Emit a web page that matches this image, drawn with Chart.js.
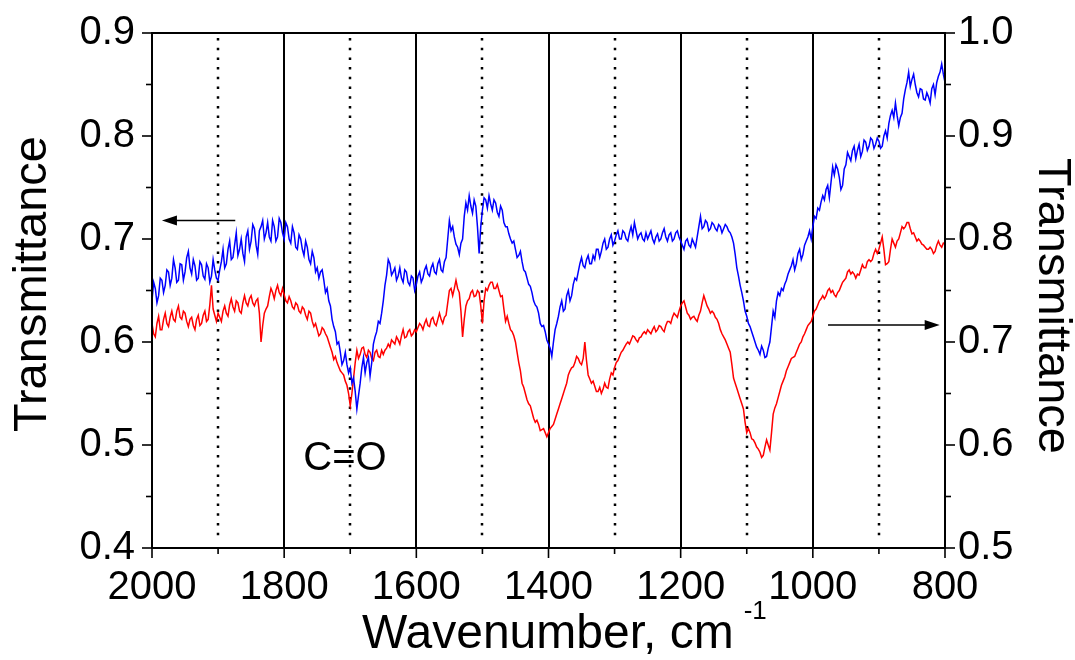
<!DOCTYPE html>
<html>
<head>
<meta charset="utf-8">
<script src="https://cdn.jsdelivr.net/npm/chart.js@4/dist/chart.umd.min.js"></script>
<style>
html,body{margin:0;padding:0;background:#fff;}
canvas{display:block;}
</style>
</head>
<body>
<canvas id="c" width="1075" height="660"></canvas>
<script>
// ---- data: readings every 5 cm-1 from 2000 down to 800, plus the in-between readings (every 5 cm-1 from 1997.5 down to 802.5) ----
const wavenumberStart = 2000;
const wavenumberStep = 2.5;

// blue spectrum (left axis) at 2000, 1995, ... 800
const blueLeft = [
0.640,0.652,0.645,0.660,0.655,0.668,0.662,0.672,0.660,0.675,
0.668,0.688,0.666,0.674,0.662,0.675,0.661,0.672,0.664,0.670,
0.660,0.678,0.672,0.690,0.680,0.694,0.684,0.700,0.678,0.708,
0.698,0.710,0.685,0.712,0.700,0.716,0.698,0.712,0.702,0.716,
0.700,0.712,0.696,0.706,0.690,0.700,0.684,0.692,0.676,0.682,
0.672,0.668,0.660,0.652,0.635,0.615,0.598,0.590,0.582,0.578,
0.575,0.565,0.535,0.560,0.585,0.580,0.567,0.598,0.610,0.618,
0.640,0.665,0.676,0.668,0.660,0.672,0.658,0.668,0.655,0.662,
0.656,0.668,0.662,0.674,0.664,0.676,0.666,0.680,0.668,0.682,
0.718,0.712,0.695,0.685,0.700,0.735,0.742,0.725,0.732,0.686,
0.728,0.738,0.742,0.728,0.735,0.722,0.728,0.712,0.705,0.696,
0.690,0.684,0.678,0.668,0.656,0.648,0.636,0.628,0.615,0.610,
0.598,0.586,0.612,0.625,0.640,0.632,0.650,0.645,0.662,0.668,
0.682,0.672,0.684,0.676,0.680,0.690,0.688,0.700,0.692,0.704,
0.698,0.708,0.700,0.706,0.698,0.712,0.716,0.700,0.706,0.698,
0.700,0.708,0.696,0.705,0.700,0.710,0.698,0.706,0.700,0.708,
0.698,0.690,0.700,0.692,0.696,0.702,0.722,0.712,0.716,0.710,
0.714,0.708,0.712,0.710,0.712,0.706,0.696,0.672,0.655,0.640,
0.625,0.615,0.605,0.595,0.588,0.592,0.586,0.600,0.630,0.640,
0.645,0.650,0.660,0.670,0.680,0.676,0.690,0.685,0.698,0.708,
0.712,0.720,0.728,0.742,0.748,0.740,0.770,0.772,0.760,0.752,
0.772,0.780,0.786,0.778,0.792,0.785,0.794,0.790,0.796,0.792,
0.795,0.790,0.805,0.812,0.825,0.832,0.810,0.822,0.845,0.862,
0.855,0.850,0.838,0.845,0.835,0.838,0.846,0.840,0.858,0.870,
0.852
];
// blue spectrum (left axis) at 1997.5, 1992.5, ... 802.5
const blueLeftMid = [
0.658,0.638,0.662,0.648,0.670,0.655,0.680,0.658,0.676,0.660,
0.682,0.672,0.680,0.660,0.678,0.664,0.676,0.658,0.680,0.662,
0.670,0.690,0.676,0.698,0.682,0.706,0.690,0.686,0.702,0.690,
0.714,0.694,0.708,0.718,0.706,0.702,0.718,0.698,0.720,0.706,
0.716,0.700,0.712,0.692,0.704,0.690,0.698,0.680,0.688,0.668,
0.662,0.670,0.648,0.640,0.622,0.610,0.600,0.578,0.590,0.570,
0.560,0.552,0.548,0.575,0.570,0.585,0.580,0.605,0.620,0.628,
0.655,0.680,0.665,0.672,0.664,0.662,0.670,0.658,0.664,0.650,
0.664,0.658,0.670,0.666,0.672,0.668,0.676,0.670,0.678,0.700,
0.708,0.702,0.692,0.696,0.722,0.728,0.732,0.738,0.712,0.712,
0.740,0.730,0.734,0.738,0.726,0.732,0.716,0.712,0.700,0.698,
0.682,0.688,0.670,0.662,0.654,0.640,0.634,0.618,0.616,0.602,
0.594,0.600,0.618,0.634,0.630,0.645,0.640,0.656,0.660,0.676,
0.674,0.680,0.676,0.684,0.690,0.682,0.696,0.690,0.700,0.694,
0.704,0.700,0.708,0.700,0.706,0.704,0.708,0.704,0.700,0.706,
0.704,0.700,0.702,0.698,0.706,0.702,0.704,0.698,0.706,0.702,
0.694,0.698,0.694,0.700,0.692,0.712,0.710,0.718,0.708,0.716,
0.710,0.714,0.706,0.714,0.708,0.702,0.685,0.664,0.648,0.630,
0.618,0.610,0.600,0.592,0.596,0.585,0.594,0.615,0.624,0.648,
0.652,0.656,0.666,0.674,0.670,0.686,0.680,0.694,0.702,0.700,
0.722,0.730,0.736,0.738,0.752,0.755,0.762,0.768,0.748,0.768,
0.784,0.776,0.790,0.786,0.780,0.796,0.786,0.798,0.788,0.798,
0.788,0.800,0.798,0.820,0.818,0.820,0.818,0.836,0.852,0.848,
0.860,0.842,0.846,0.836,0.842,0.832,0.850,0.852,0.862,0.860
];

// red spectrum (right axis) at 2000, 1995, ... 800
const redRight = [
0.718,0.705,0.725,0.712,0.728,0.715,0.730,0.720,0.735,0.722,
0.728,0.715,0.724,0.712,0.726,0.718,0.730,0.722,0.755,0.726,
0.728,0.720,0.735,0.725,0.742,0.730,0.738,0.728,0.745,0.735,
0.745,0.735,0.742,0.700,0.728,0.735,0.752,0.742,0.755,0.745,
0.746,0.738,0.740,0.732,0.736,0.728,0.732,0.722,0.728,0.715,
0.712,0.708,0.712,0.705,0.695,0.683,0.680,0.672,0.668,0.658,
0.638,0.665,0.692,0.688,0.695,0.685,0.690,0.682,0.692,0.685,
0.688,0.694,0.695,0.700,0.705,0.698,0.712,0.705,0.712,0.708,
0.710,0.718,0.712,0.722,0.715,0.724,0.716,0.728,0.718,0.726,
0.750,0.745,0.760,0.748,0.705,0.735,0.742,0.750,0.745,0.748,
0.718,0.752,0.755,0.758,0.752,0.750,0.745,0.720,0.718,0.710,
0.700,0.680,0.660,0.650,0.640,0.632,0.622,0.620,0.615,0.612,
0.612,0.618,0.625,0.635,0.645,0.655,0.668,0.675,0.680,0.684,
0.678,0.700,0.668,0.660,0.657,0.652,0.650,0.660,0.655,0.670,
0.675,0.682,0.690,0.695,0.700,0.702,0.705,0.700,0.705,0.710,
0.712,0.708,0.715,0.712,0.715,0.710,0.720,0.718,0.728,0.724,
0.735,0.740,0.728,0.722,0.725,0.720,0.730,0.745,0.735,0.728,
0.728,0.722,0.712,0.705,0.698,0.690,0.665,0.655,0.645,0.635,
0.612,0.612,0.605,0.598,0.593,0.590,0.605,0.595,0.630,0.640,
0.652,0.662,0.672,0.680,0.685,0.690,0.698,0.705,0.712,0.718,
0.725,0.732,0.740,0.745,0.745,0.752,0.750,0.744,0.750,0.758,
0.762,0.770,0.768,0.762,0.765,0.775,0.772,0.780,0.780,0.790,
0.790,0.802,0.775,0.778,0.800,0.792,0.800,0.812,0.812,0.816,
0.805,0.802,0.800,0.795,0.792,0.790,0.790,0.788,0.798,0.792,
0.795
];
// red spectrum (right axis) at 1997.5, 1992.5, ... 802.5
const redRightMid = [
0.708,0.718,0.712,0.722,0.718,0.724,0.722,0.730,0.724,0.730,
0.720,0.722,0.716,0.722,0.716,0.726,0.720,0.736,0.732,0.720,
0.724,0.730,0.728,0.736,0.734,0.740,0.730,0.738,0.738,0.742,
0.738,0.740,0.728,0.716,0.732,0.744,0.748,0.750,0.748,0.752,
0.740,0.744,0.734,0.738,0.730,0.734,0.726,0.730,0.720,0.718,
0.706,0.714,0.708,0.700,0.690,0.686,0.676,0.670,0.662,0.650,
0.650,0.680,0.684,0.694,0.688,0.692,0.684,0.690,0.686,0.692,
0.692,0.698,0.702,0.698,0.702,0.706,0.704,0.710,0.706,0.712,
0.714,0.716,0.718,0.716,0.722,0.718,0.722,0.722,0.724,0.738,
0.752,0.752,0.752,0.730,0.722,0.740,0.748,0.744,0.750,0.735,
0.740,0.750,0.758,0.752,0.756,0.744,0.732,0.725,0.712,0.706,
0.690,0.672,0.656,0.644,0.638,0.626,0.624,0.614,0.616,0.608,
0.616,0.620,0.630,0.640,0.650,0.660,0.672,0.676,0.686,0.680,
0.684,0.682,0.664,0.662,0.652,0.656,0.654,0.656,0.664,0.668,
0.680,0.686,0.692,0.698,0.698,0.706,0.702,0.704,0.708,0.708,
0.710,0.712,0.710,0.716,0.712,0.716,0.720,0.724,0.726,0.730,
0.738,0.734,0.726,0.724,0.722,0.726,0.738,0.740,0.732,0.730,
0.724,0.718,0.708,0.702,0.694,0.678,0.660,0.650,0.640,0.622,
0.616,0.606,0.602,0.596,0.588,0.598,0.600,0.612,0.636,0.646,
0.658,0.666,0.676,0.684,0.686,0.694,0.700,0.708,0.716,0.720,
0.730,0.736,0.742,0.742,0.750,0.748,0.746,0.748,0.754,0.760,
0.768,0.766,0.766,0.766,0.770,0.772,0.778,0.778,0.786,0.786,
0.796,0.790,0.776,0.790,0.796,0.798,0.806,0.810,0.816,0.810,
0.806,0.798,0.798,0.794,0.790,0.792,0.786,0.794,0.794,0.796
];

// merge the two sets of readings in wavenumber order
function mergeReadings(main, mid) {
  const out = [];
  main.forEach((v, i) => { out.push(v); if (i < mid.length) out.push(mid[i]); });
  return out;
}
const blueSeries = mergeReadings(blueLeft, blueLeftMid);
const redSeries = mergeReadings(redRight, redRightMid);
const wavenumbers = blueSeries.map((_, i) => wavenumberStart - i * wavenumberStep);

// axis / grid values
const xSolidGrid = [1800, 1600, 1400, 1200, 1000];
const xDottedGrid = [1900, 1700, 1500, 1300, 1100, 900];
const xMajorTicks = [2000, 1800, 1600, 1400, 1200, 1000, 800];
const leftMajorTicks = [0.4, 0.5, 0.6, 0.7, 0.8, 0.9];
const leftMinorTicks = [0.45, 0.55, 0.65, 0.75, 0.85];
const rightMajorTicks = [0.5, 0.6, 0.7, 0.8, 0.9, 1.0];
const rightMinorTicks = [0.55, 0.65, 0.75, 0.85, 0.95];

// annotations
const yTitle = 'Transmittance';
const xTitle = 'Wavenumber, cm';
const xTitleSup = '-1';
const peakLabel = { text: 'C=O', wn: 1708, value: 0.486 };
const leftArrow = { from: 1874, to: 1985, value: 0.718 };   // left axis
const rightArrow = { from: 977, to: 808, value: 0.7165 };   // right axis

const FAMILY = "'Liberation Sans', Arial, Helvetica, sans-serif";
Chart.defaults.font.family = FAMILY;
Chart.defaults.color = '#000';

function seg(ctx, x1, y1, x2, y2) {
  ctx.beginPath(); ctx.moveTo(x1, y1); ctx.lineTo(x2, y2); ctx.stroke();
}
function arrow(ctx, x1, y, x2) {
  const dir = x2 > x1 ? 1 : -1;
  ctx.lineWidth = 1.6;
  seg(ctx, x1, y, x2 - dir * 10, y);
  ctx.beginPath();
  ctx.moveTo(x2, y);
  ctx.lineTo(x2 - dir * 15, y - 5);
  ctx.lineTo(x2 - dir * 15, y + 5);
  ctx.closePath();
  ctx.fill();
}

const decor = {
  id: 'decor',
  beforeDatasetsDraw(chart) {
    const { ctx, chartArea: a, scales: { x } } = chart;
    ctx.save();
    ctx.strokeStyle = '#000';
    ctx.lineWidth = 2;
    xSolidGrid.forEach(v => {
      const p = Math.round(x.getPixelForValue(v));
      seg(ctx, p, a.top, p, a.bottom);
    });
    ctx.lineWidth = 2.5;
    ctx.setLineDash([2.5, 7.2]);
    xDottedGrid.forEach(v => {
      const p = Math.round(x.getPixelForValue(v));
      seg(ctx, p, a.top + 5, p, a.bottom - 8);
    });
    ctx.restore();
  },
  afterDraw(chart) {
    const { ctx, chartArea: a, scales: { x, y, y1 } } = chart;
    ctx.save();
    ctx.strokeStyle = '#000';
    ctx.fillStyle = '#000';
    // frame
    ctx.lineWidth = 2;
    ctx.strokeRect(a.left, a.top, a.right - a.left, a.bottom - a.top);
    // ticks
    ctx.lineWidth = 1.6;
    leftMajorTicks.forEach(v => { const p = y.getPixelForValue(v); seg(ctx, a.left - 10, p, a.left, p); });
    leftMinorTicks.forEach(v => { const p = y.getPixelForValue(v); seg(ctx, a.left - 6, p, a.left, p); });
    rightMajorTicks.forEach(v => { const p = y1.getPixelForValue(v); seg(ctx, a.right, p, a.right + 10, p); });
    rightMinorTicks.forEach(v => { const p = y1.getPixelForValue(v); seg(ctx, a.right, p, a.right + 6, p); });
    xMajorTicks.forEach(v => { const p = x.getPixelForValue(v); seg(ctx, p, a.bottom, p, a.bottom + 10); });
    xDottedGrid.forEach(v => { const p = x.getPixelForValue(v); seg(ctx, p, a.bottom, p, a.bottom + 6); });

    // arrows
    arrow(ctx, x.getPixelForValue(leftArrow.from), y.getPixelForValue(leftArrow.value), x.getPixelForValue(leftArrow.to));
    arrow(ctx, x.getPixelForValue(rightArrow.from), y1.getPixelForValue(rightArrow.value), x.getPixelForValue(rightArrow.to));

    // C=O label
    ctx.font = "40px " + FAMILY;
    ctx.textAlign = 'center';
    ctx.textBaseline = 'middle';
    ctx.fillText(peakLabel.text, x.getPixelForValue(peakLabel.wn), y.getPixelForValue(peakLabel.value));

    // axis titles
    ctx.font = "47px " + FAMILY;
    ctx.save();
    ctx.translate(33, 284);
    ctx.rotate(-Math.PI / 2);
    ctx.fillText(yTitle, 0, 0);
    ctx.restore();
    ctx.save();
    ctx.translate(1052, 306);
    ctx.rotate(Math.PI / 2);
    ctx.fillText(yTitle, 0, 0);
    ctx.restore();

    ctx.font = "48px " + FAMILY;
    ctx.textAlign = 'left';
    ctx.textBaseline = 'alphabetic';
    const tx = 362;
    ctx.fillText(xTitle, tx, 648);
    const w = ctx.measureText(xTitle).width;
    ctx.font = "26px " + FAMILY;
    ctx.fillText(xTitleSup, tx + w + 10, 619);
    ctx.restore();
  }
};

new Chart(document.getElementById('c'), {
  type: 'line',
  data: {
    datasets: [
      {
        label: 'blue (left axis)',
        data: wavenumbers.map((wn, i) => ({ x: wn, y: blueSeries[i] })),
        yAxisID: 'y',
        borderColor: '#0000ff',
        borderWidth: 1.5,
        pointRadius: 0,
        tension: 0,
        fill: false
      },
      {
        label: 'red (right axis)',
        data: wavenumbers.map((wn, i) => ({ x: wn, y: redSeries[i] })),
        yAxisID: 'y1',
        borderColor: '#ff0000',
        borderWidth: 1.5,
        pointRadius: 0,
        tension: 0,
        fill: false
      }
    ]
  },
  options: {
    responsive: false,
    animation: false,
    events: [],
    layout: { padding: { top: 33, left: 0, right: 0, bottom: 0 } },
    plugins: { legend: { display: false }, tooltip: { enabled: false } },
    scales: {
      x: {
        type: 'linear',
        position: 'bottom',
        reverse: true,
        min: 800,
        max: 2000,
        afterBuildTicks: s => { s.ticks = xMajorTicks.map(v => ({ value: v })); },
        ticks: { padding: 16, font: { size: 40 }, color: '#000', maxRotation: 0, autoSkip: false, callback: v => String(v) },
        grid: { display: false, drawTicks: false },
        border: { display: false },
        afterFit: s => { s.height = 112; }
      },
      y: {
        position: 'left',
        min: 0.4,
        max: 0.9,
        afterBuildTicks: s => { s.ticks = leftMajorTicks.map(v => ({ value: v })); },
        ticks: { padding: 17, font: { size: 40, lineHeight: 0.5 }, color: '#000', callback: v => v.toFixed(1) },
        grid: { display: false, drawTicks: false },
        border: { display: false },
        afterFit: s => { s.width = 152; }
      },
      y1: {
        position: 'right',
        min: 0.5,
        max: 1.0,
        afterBuildTicks: s => { s.ticks = rightMajorTicks.map(v => ({ value: v })); },
        ticks: { padding: 13, font: { size: 40, lineHeight: 0.5 }, color: '#000', callback: v => v.toFixed(1) },
        grid: { display: false, drawTicks: false },
        border: { display: false },
        afterFit: s => { s.width = 130; }
      }
    }
  },
  plugins: [decor]
});
</script>
</body>
</html>
